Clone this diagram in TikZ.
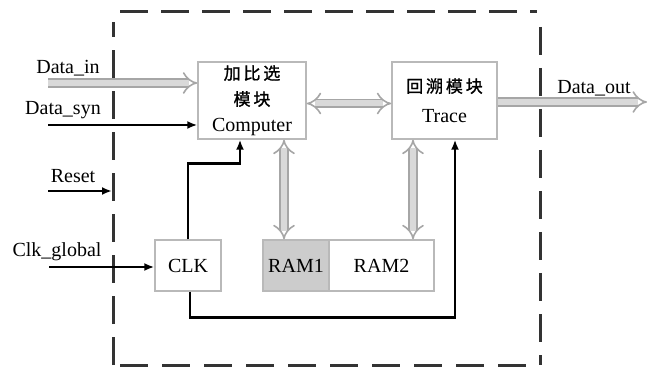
\documentclass[tikz,border=0pt]{standalone}
\usepackage{fontspec}
\setmainfont{Liberation Serif}
\newfontfamily\cjk[FakeBold=1.2]{Noto Sans CJK SC}
\usetikzlibrary{arrows.meta}
\begin{document}
\begin{tikzpicture}[x=0.5pt, y=-0.5pt, font=\rmfamily\fontsize{10}{12}\selectfont,
    block/.style={draw=gray!55, line width=0.7pt, fill=white, inner sep=0pt, align=center},
    bus/.style={draw=gray!70, double=gray!30, line width=0.8pt, double distance=3pt, -{Implies}},
    busboth/.style={bus, {Implies}-{Implies}},
    sig/.style={line width=1.2pt, -{Latex[length=5pt,width=4pt]}},
    clkline/.style={line width=1.4pt, -{Latex[length=5pt,width=4pt]}}]
    \useasboundingbox (0,0) rectangle (657,368);

    % dashed frame
    \draw[black!80, line width=1.5pt, dash pattern=on 14pt off 6.5pt] (113,365) -- (113,22);
    \draw[black!80, line width=1.5pt, dash pattern=on 14pt off 6.5pt] (120,12) -- (537,12);
    \draw[black!80, line width=1.5pt, dash pattern=on 14pt off 6.5pt] (540,27) -- (540,365);
    \draw[black!80, line width=1.5pt, dash pattern=on 14pt off 7pt] (120,365) -- (540,365);
    \coordinate (frameL) at (112,0);

    % blocks
    \node[block, minimum width=54pt, minimum height=38.5pt] (comp) at (252,100.5)
        {{\cjk\fontsize{8.5}{10}\selectfont 加\,比\,选}\\[1pt]{\cjk\fontsize{8.5}{10}\selectfont 模\,块}\\[1pt]Computer};
    \node[block, minimum width=52.5pt, minimum height=38.5pt] (trace) at (444.5,100.5)
        {{\cjk\fontsize{8.5}{10}\selectfont 回\,溯\,模\,块}\\[3pt]Trace};
    \node[block, minimum width=33pt, minimum height=25.5pt] (clk) at (188,265.5) {CLK};
    \node[block, fill=gray!40, minimum width=33pt, minimum height=25.5pt] (ram1) at (296,265.5) {RAM1};
    \node[block, minimum width=52.5pt, minimum height=25.5pt] (ram2) at (381.5,265.5) {RAM2};

    % port labels
    \node (lin) at (68,68) {Data\_in};
    \node (lsyn) at (63,110) {Data\_syn};
    \node (lrst) at (73,176) {Reset};
    \node (lclk) at (57,252) {Clk\_global};
    \node (lout) at (594,88) {Data\_out};
    \coordinate (inA) at (48,83);
    \coordinate (inB) at (48,125);
    \coordinate (inR) at (48,191);
    \coordinate (inC) at (49,267);
    \coordinate (outD) at (647,102);

    % inputs and output
    \draw[bus] (inA) -- (inA -| comp.west);
    \draw[sig] (inB) -- (inB -| comp.west);
    \draw[sig] (inR) -- (inR -| frameL);
    \draw[sig] (inC) -- (inC -| clk.west);
    \draw[bus] (trace.east |- outD) -- (outD);

    % buses between blocks
    \draw[busboth] ([yshift=-1.5pt]comp.east) -- ([yshift=-1.5pt]trace.west);
    \draw[busboth] ([xshift=-6pt]ram1.north |- comp.south) -- ([xshift=-6pt]ram1.north);
    \draw[busboth] ([xshift=15.75pt]ram2.north |- trace.south) -- ([xshift=15.75pt]ram2.north);

    % clock lines
    \draw[clkline] (clk.north) |- ([xshift=-6pt,yshift=-12pt]comp.south) -- ([xshift=-6pt]comp.south);
    \draw[clkline] ([xshift=1pt]clk.south) -- ++(0,26) -| ([xshift=5.25pt]trace.south);
\end{tikzpicture}
\end{document}
